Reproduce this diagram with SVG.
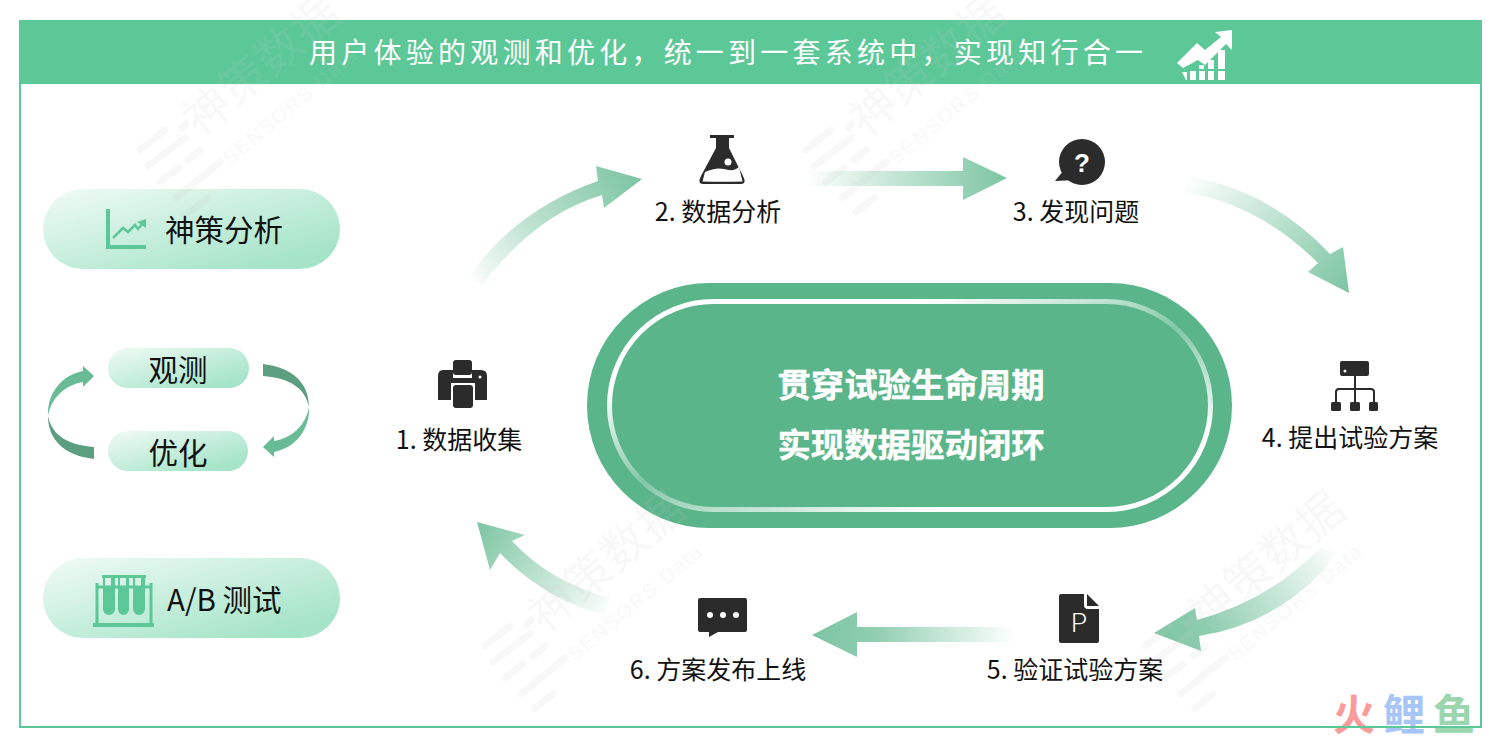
<svg xmlns="http://www.w3.org/2000/svg" xmlns:xlink="http://www.w3.org/1999/xlink" width="1500" height="742" viewBox="0 0 1500 742">
<style>
text{font-family:"Noto Sans CJK SC","Noto Sans",sans-serif}
.lbl{font-size:25px;fill:#111;text-anchor:middle}
.pill{font-size:29.500px;fill:#111;text-anchor:middle}
.mid{font-size:33.400px;font-weight:700;fill:#fff;text-anchor:middle;stroke:#fff;stroke-width:.4px}
.ic{fill:#2b2b2b}
.g{fill:#5cc898}
.dk{fill:#5b9e80}
.lt{fill:#68bb94}
.wm{font-size:46px;fill:#c8c8c8}
.wms{font-size:20px;fill:#c8c8c8;font-family:"Liberation Sans",sans-serif;letter-spacing:2px}
.st{stroke:#c8c8c8;stroke-width:7;stroke-linecap:round}
</style>
<defs>
<linearGradient id="p" x1="0" y1="0" x2="1" y2="1"><stop offset="0" stop-color="#f1fbf6"/><stop offset=".85" stop-color="#a6e4c9"/></linearGradient>
<linearGradient id="a1" gradientUnits="userSpaceOnUse" x1="470" y1="285" x2="640" y2="175"><stop offset="0" stop-color="#fff"/><stop offset=".4" stop-color="#bfe3d2"/><stop offset="1" stop-color="#7cc5a2"/></linearGradient>
<linearGradient id="a2" gradientUnits="userSpaceOnUse" x1="805" y1="0" x2="1007" y2="0"><stop offset="0" stop-color="#fff"/><stop offset="1" stop-color="#7cc5a2"/></linearGradient>
<linearGradient id="a3" gradientUnits="userSpaceOnUse" x1="1185" y1="180" x2="1349" y2="293"><stop offset="0" stop-color="#fff"/><stop offset="1" stop-color="#7cc5a2"/></linearGradient>
<linearGradient id="a4" gradientUnits="userSpaceOnUse" x1="1338" y1="545" x2="1154" y2="633"><stop offset="0" stop-color="#fff"/><stop offset=".75" stop-color="#8fcdb0"/><stop offset="1" stop-color="#7cc5a2"/></linearGradient>
<linearGradient id="a5" gradientUnits="userSpaceOnUse" x1="1015" y1="0" x2="812" y2="0"><stop offset="0" stop-color="#fff"/><stop offset=".7" stop-color="#8fcdb0"/><stop offset="1" stop-color="#7cc5a2"/></linearGradient>
<linearGradient id="a6" gradientUnits="userSpaceOnUse" x1="612" y1="612" x2="477" y2="522"><stop offset="0" stop-color="#fff"/><stop offset="1" stop-color="#7cc5a2"/></linearGradient>
<linearGradient id="ring" gradientUnits="userSpaceOnUse" x1="850" y1="197" x2="970" y2="613"><stop offset=".28" stop-color="#fff"/><stop offset=".5" stop-color="#fff" stop-opacity=".25"/><stop offset=".75" stop-color="#fff"/></linearGradient>
<g id="wmk">
<text class="wm" transform="rotate(-40)" x="0" y="0" letter-spacing="1">神策数据</text>
<text class="wms" transform="translate(30 28) rotate(-40)" x="0" y="0">SENSORS Data</text>
<line class="st" x1="-60" y1="12" x2="-35" y2="-8"/><line class="st" x1="-52" y1="28" x2="-15" y2="0"/><line class="st" x1="-40" y1="44" x2="-22" y2="30"/><line class="st" x1="-12" y1="22" x2="0" y2="12"/><line class="st" x1="-24" y1="60" x2="20" y2="24"/><line class="st" x1="-10" y1="74" x2="8" y2="60"/><line class="st" x1="-18" y1="-10" x2="-14" y2="-14"/>
</g>
</defs>
<rect width="1500" height="742" fill="#fff"/>

<text x="1333" y="729.500" font-size="42" font-weight="700" letter-spacing="8"><tspan fill="#fb9a9a">火</tspan><tspan fill="#a8c5f8">鲤</tspan><tspan fill="#9bd6af">鱼</tspan></text>

<g id="frame">
<rect x="20" y="21" width="1461" height="706" fill="none" stroke="#5cc898" stroke-width="2"/>
<rect x="19" y="20" width="1463" height="64" fill="#5cc898"/>
<text x="309" y="63" font-size="28" fill="#fff" textLength="834">用户体验的观测和优化，统一到一套系统中，实现知行合一</text>
<g fill="#fff">
<polygon points="1177,63 1197,43 1205,50 1221,37 1215,32 1232,30 1232,50 1226,44 1205,65 1198,60 1183,68"/>
<polygon points="1182,72 1187,72 1187,80 1186,80"/><rect x="1190" y="71" width="6" height="9"/><rect x="1199" y="71" width="6" height="9"/><rect x="1208" y="71" width="6" height="9"/><rect x="1218" y="71" width="7" height="9"/>
<rect x="1199" y="65" width="5" height="4"/><rect x="1208" y="60" width="6" height="9"/><rect x="1218" y="50" width="7" height="19"/>
</g>
</g>

<g id="connectors">
<path fill="url(#a1)" d="M468 278Q515 210 598 181L596 166L642 179L604 208L602 195Q535 215 482 285Z"/>
<path fill="url(#a2)" d="M805 171H963V157L1007 178L963 200V186H805Z"/>
<path fill="url(#a3)" d="M1187 176Q1270 190 1330 254L1343 247L1349 293L1308 272L1318 263Q1260 205 1185 192Z"/>
<path fill="url(#a4)" d="M1320 548Q1270 600 1197 620L1195 608L1154 633L1201 651L1199 636Q1285 622 1337 553Z"/>
<path fill="url(#a5)" d="M1015 627H857V612L812 635L857 657V642H1015Z"/>
<path fill="url(#a6)" d="M610 598Q550 582 512 541L525 535L477 522L490 570L500 553Q545 600 605 615Z"/>
<g id="loop-right">
<path class="dk" d="M263 364C295 368 309 385 309 407C305 388 290 378 263 376Z"/>
<path class="lt" d="M309 407C306 425 292 438 274 441V436L263 447L274 457V452C295 448 310 430 309 407Z"/>
</g>
<g id="loop-left" transform="rotate(180 178.5 411.5)">
<path class="dk" d="M263 364C295 368 309 385 309 407C305 388 290 378 263 376Z"/>
<path class="lt" d="M309 407C306 425 292 438 274 441V436L263 447L274 457V452C295 448 310 430 309 407Z"/>
</g>
</g>

<g id="node-sensors">
<rect x="43" y="189" width="297" height="80" rx="40" fill="url(#p)"/>
<path class="g" d="M106 209h4v36h36v4h-40z"/>
<path fill="none" stroke="#5cc898" stroke-width="2.5" d="M113 238L123 228L128 232L135 225L138 229L143 223"/>
<polygon class="g" points="146,219 146,228 137,222"/>
<text class="pill" x="224" y="241">神策分析</text>
</g>
<g id="node-observe">
<rect x="108" y="348" width="141" height="40" rx="20" fill="url(#p)"/>
<text class="pill" x="178" y="381">观测</text>
</g>
<g id="node-optimize">
<rect x="108" y="431" width="140" height="40" rx="20" fill="url(#p)"/>
<text class="pill" x="178" y="464">优化</text>
</g>
<g id="node-ab">
<rect x="43" y="558" width="297" height="80" rx="40" fill="url(#p)"/>
<g class="g">
<rect x="93" y="623" width="61" height="4"/><rect x="95.500" y="583" width="3" height="40"/><rect x="149.500" y="583" width="3" height="40"/><rect x="96" y="585.500" width="56" height="3"/>
<rect x="102" y="575" width="44" height="3"/>
<path d="M103 578h2v8h6v-8h4v31a6 6 0 0 1-12 0z"/><path d="M118 578h2v8h6v-8h3v31a5.500 6 0 0 1-11 0z"/><path d="M133 578h2v8h6v-8h4v31a6 6 0 0 1-12 0z"/>
</g>
<text x="167" y="611" font-size="29.500" fill="#111">A/B 测试</text>
</g>

<g id="node-center">
<rect x="587" y="283" width="645" height="245" rx="122.500" fill="#5ab58a"/>
<rect x="609.500" y="301.500" width="601" height="208" rx="104" fill="none" stroke="url(#ring)" stroke-width="5"/>
<text class="mid" x="911" y="397">贯穿试验生命周期</text>
<text class="mid" x="911" y="457">实现数据驱动闭环</text>
</g>

<g id="node-1">
<path class="ic" d="M443 370H453V378H472V370H481Q487 370 487 376V400H475V383H451V400H438V376Q438 370 443 370Z"/>
<rect class="ic" x="453" y="360" width="19" height="15" rx="3"/>
<rect class="ic" x="453" y="385" width="20" height="23" rx="3"/>
<circle cx="480" cy="377" r="1.500" fill="#fff"/>
<text class="lbl" x="459" y="449">1. 数据收集</text>
</g>
<g id="node-2">
<path class="ic" d="M710 135H734V138H729V148L743 176Q747 184 741 184H703Q697 184 701 176L716 148V138H710Z"/>
<path fill="#fff" d="M702.500 181.500L705 172Q716 167 724 169Q734 172 739 167L742.500 181.500Q722 182 702.500 181.500Z"/>
<circle cx="728" cy="162" r="3.500" fill="#fff"/>
<text class="lbl" x="718" y="221">2. 数据分析</text>
</g>
<g id="node-3">
<circle class="ic" cx="1082" cy="162" r="23"/>
<polygon class="ic" points="1055,181 1064,170 1075,180"/>
<text x="1082" y="172" font-size="26" font-weight="700" fill="#fff" text-anchor="middle" style="font-family:'Liberation Sans',sans-serif">?</text>
<text class="lbl" x="1076" y="221">3. 发现问题</text>
</g>
<g id="node-4">
<rect class="ic" x="1340" y="361" width="29" height="15" rx="2"/>
<circle cx="1345" cy="371" r="1.500" fill="#fff"/>
<path fill="none" stroke="#2b2b2b" stroke-width="2" d="M1355 376V402M1336 402V392Q1336 389 1339 389H1371Q1374 389 1374 392V402"/>
<rect class="ic" x="1331" y="402" width="10" height="9" rx="1.500"/><rect class="ic" x="1350" y="402" width="10" height="9" rx="1.500"/><rect class="ic" x="1369" y="402" width="9" height="9" rx="1.500"/>
<text class="lbl" x="1350" y="447">4. 提出试验方案</text>
</g>
<g id="node-5">
<path class="ic" d="M1061 594H1084V605Q1084 609 1088 609H1099V641Q1099 643 1097 643H1061Q1059 643 1059 641V596Q1059 594 1061 594Z"/>
<polygon class="ic" points="1087,594 1099,606 1087,606"/>
<text x="1071" y="632" font-size="26" font-weight="300" fill="#fff" style="font-family:Roboto,sans-serif">P</text>
<text class="lbl" x="1075" y="679">5. 验证试验方案</text>
</g>
<g id="node-6">
<path class="ic" d="M700 598H745Q747 598 747 600V630Q747 632 745 632H718L709 637V632H700Q698 632 698 630V600Q698 598 700 598Z"/>
<circle cx="710" cy="615" r="3" fill="#fff"/><circle cx="723" cy="615" r="3" fill="#fff"/><circle cx="736" cy="615" r="3" fill="#fff"/>
<text class="lbl" x="718" y="679">6. 方案发布上线</text>
</g>

<g id="watermarks" opacity=".13">
<use xlink:href="#wmk" transform="translate(200 138)"/>
<use xlink:href="#wmk" transform="translate(866 138)"/>
<use xlink:href="#wmk" transform="translate(545 634)"/>
<use xlink:href="#wmk" transform="translate(1205 634)"/>
</g>
</svg>
